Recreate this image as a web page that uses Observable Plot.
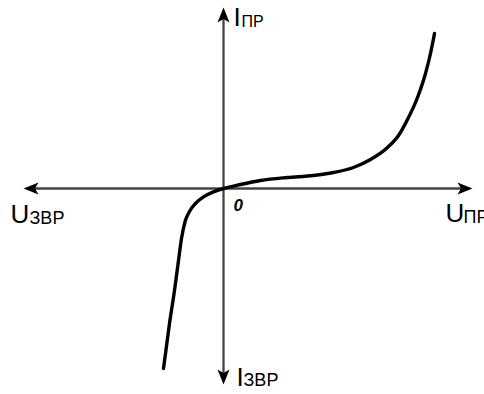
<!DOCTYPE html>
<html>
<head>
<meta charset="utf-8">
<script src="https://cdn.jsdelivr.net/npm/d3@7"></script>
<script src="https://cdn.jsdelivr.net/npm/@observablehq/plot@0.6"></script>
<style>
  html, body { margin: 0; padding: 0; background: #fff; }
  #chart svg { display: block; }
</style>
</head>
<body>
<div id="chart"></div>
<script>
// Current–voltage characteristic of a diode (arbitrary units)
const voltage = [-3.0, -2.7, -2.45, -2.25, -2.1, -1.92, -1.7, -1.4, -1.0, -0.5, 0,
                 0.85, 1.85, 3.2, 4.5, 5.5, 6.5, 7.35, 8.2, 8.75, 9.2, 9.7, 10.1, 10.35, 10.55];
const current = [-9.0, -6.75, -5.1, -3.6, -2.5, -1.65, -1.15, -0.75, -0.42, -0.17, 0,
                 0.2, 0.4, 0.55, 0.65, 0.8, 1.05, 1.45, 2.05, 2.65, 3.45, 4.55, 5.75, 6.75, 7.75];

// Axis extents
const uMin = -10, uMax = 12.45;
const iMin = -9.8, iMax = 9.05;

// Axis labels: main letter + subscript
const axisMain = ["I", "U", "I", "U"];
const axisSub = ["ПР", "ПР", "ЗВР", "ЗВР"];

const curve = voltage.map((v, k) => ({u: v, i: current[k]}));

// Filled arrowhead with tip at the origin, pointing up
const arrowHead = {
  draw(ctx) {
    ctx.moveTo(0, 0);
    ctx.lineTo(6, 15);
    ctx.lineTo(0, 11.5);
    ctx.lineTo(-6, 15);
    ctx.closePath();
  }
};

const heads = [
  {u: 0, i: iMax, rot: 0},
  {u: uMax, i: 0, rot: 90},
  {u: 0, i: iMin, rot: 180},
  {u: uMin, i: 0, rot: 270}
];

const font = "Arial, 'Liberation Sans', sans-serif";
const axisColor = "#444";

const chart = Plot.plot({
  width: 484,
  height: 394,
  marginLeft: 23,
  marginRight: 12,
  marginTop: 7,
  marginBottom: 10,
  x: {domain: [uMin, uMax], axis: null},
  y: {domain: [iMin, iMax], axis: null},
  style: {fontFamily: font, background: "#fff", overflow: "visible"},
  marks: [
    Plot.ruleY([0], {stroke: axisColor, strokeWidth: 2.3, insetLeft: 8, insetRight: 8}),
    Plot.ruleX([0], {stroke: axisColor, strokeWidth: 2.3, insetTop: 8, insetBottom: 8}),
    Plot.dot(heads, {x: "u", y: "i", rotate: "rot", symbol: arrowHead, r: 6,
                     fill: "#000", stroke: null}),
    Plot.line(curve, {x: "u", y: "i", curve: "monotone-x", stroke: "#000",
                      strokeWidth: 3.4, strokeLinecap: "round"}),
    // top: I ПР
    Plot.text([axisMain[0]], {x: 0, y: iMax, text: d => d, textAnchor: "start",
      lineAnchor: "bottom", dx: 10, dy: 18, fontSize: 26, fill: "#000"}),
    Plot.text([axisSub[0]], {x: 0, y: iMax, text: d => d, textAnchor: "start",
      lineAnchor: "bottom", dx: 18, dy: 19, fontSize: 16, fill: "#000"}),
    // right: U ПР
    Plot.text([axisMain[1]], {x: uMax, y: 0, text: d => d, textAnchor: "start",
      lineAnchor: "bottom", dx: -27, dy: 33, fontSize: 26, fill: "#000"}),
    Plot.text([axisSub[1]], {x: uMax, y: 0, text: d => d, textAnchor: "start",
      lineAnchor: "bottom", dx: -9, dy: 34, fontSize: 18, fill: "#000"}),
    // bottom: I ЗВР
    Plot.text([axisMain[2]], {x: 0, y: iMin, text: d => d, textAnchor: "start",
      lineAnchor: "bottom", dx: 13, dy: 1, fontSize: 26, fill: "#000"}),
    Plot.text([axisSub[2]], {x: 0, y: iMin, text: d => d, textAnchor: "start",
      lineAnchor: "bottom", dx: 20, dy: 1, fontSize: 18, fill: "#000"}),
    // left: U ЗВР
    Plot.text([axisMain[3]], {x: uMin, y: 0, text: d => d, textAnchor: "start",
      lineAnchor: "bottom", dx: -13, dy: 34, fontSize: 26, fill: "#000"}),
    Plot.text([axisSub[3]], {x: uMin, y: 0, text: d => d, textAnchor: "start",
      lineAnchor: "bottom", dx: 6, dy: 35, fontSize: 18, fill: "#000"}),
    // origin
    Plot.text(["0"], {x: 0, y: 0, text: d => d, textAnchor: "start",
      lineAnchor: "bottom", dx: 10, dy: 22, fontSize: 17, fontWeight: "bold",
      fontStyle: "italic", fill: "#000"})
  ]
});

document.getElementById("chart").append(chart);
</script>
</body>
</html>
